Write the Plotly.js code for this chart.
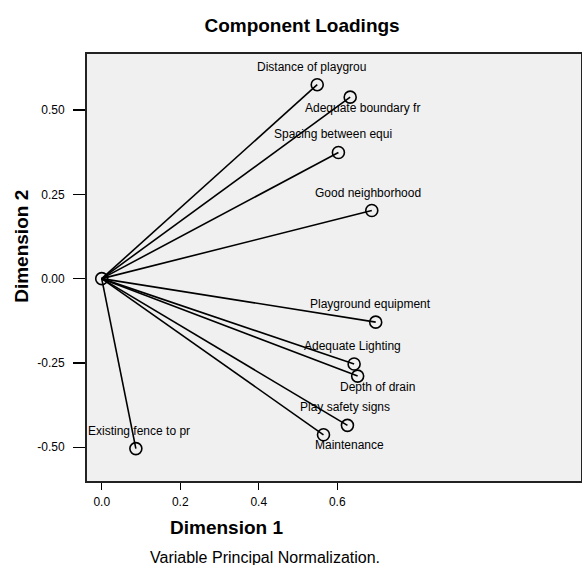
<!DOCTYPE html>
<html>
<head>
<meta charset="utf-8">
<script src="https://cdn.plot.ly/plotly-3.0.1.min.js"></script>
<style>html,body{margin:0;padding:0;background:#fff;}#chart{width:582px;height:565px;}</style>
</head>
<body>
<div id="chart"></div>
<script>
// Variables (labels as shown, truncated like the original)
var variables = ["Distance of playgrou", "Adequate boundary fr", "Spacing between equi", "Good neighborhood",
  "Playground equipment", "Adequate Lighting", "Depth of drain", "Play safety signs", "Maintenance", "Existing fence to pr"];
// Loadings on Dimension 1 and Dimension 2
var dim1 = [0.549, 0.633, 0.603, 0.688, 0.698, 0.643, 0.652, 0.626, 0.565, 0.087];
var dim2 = [0.575, 0.538, 0.374, 0.202, -0.129, -0.253, -0.289, -0.435, -0.463, -0.504];
var xTicks = [0, 0.2, 0.4, 0.6];
var xTickLabels = ["0.0", "0.2", "0.4", "0.6"];
var yTicks = [-0.5, -0.25, 0, 0.25, 0.5];
var yTickLabels = ["-0.50", "-0.25", "0.00", "0.25", "0.50"];

// label placement (pixel shifts relative to the point), layout only
var labelShiftX = [-6, 12, -5, -4, -5, -2, 20, -2, 26, 3];
var labelShiftY = [18, -11, 18, 18, 18, 18, -11, 18, -10, 18];

var lx = [], ly = [];
for (var i = 0; i < variables.length; i++) {
  lx.push(0, dim1[i], null);
  ly.push(0, dim2[i], null);
}

var vectors = {
  x: lx, y: ly, mode: 'lines', type: 'scatter',
  line: {color: '#000', width: 1.6}, hoverinfo: 'skip', showlegend: false
};
var points = {
  x: [0].concat(dim1), y: [0].concat(dim2), mode: 'markers', type: 'scatter',
  marker: {symbol: 'circle-open', size: 12, color: '#000', line: {width: 1.6, color: '#000'}},
  text: [''].concat(variables), hoverinfo: 'text', showlegend: false
};

var font = "'Liberation Sans', Arial, sans-serif";
var annotations = variables.map(function (v, i) {
  return {x: dim1[i], y: dim2[i], xref: 'x', yref: 'y', text: v, showarrow: false,
    xshift: labelShiftX[i], yshift: labelShiftY[i], xanchor: 'center', yanchor: 'middle',
    font: {family: font, size: 12, color: '#000'}};
});
annotations.push({text: '<b>Dimension 1</b>', xref: 'paper', yref: 'paper', x: 0.2834, y: -0.110,
  showarrow: false, xanchor: 'center', yanchor: 'middle', font: {family: font, size: 19, color: '#000'}});
annotations.push({text: '<b>Dimension 2</b>', xref: 'paper', yref: 'paper', x: -0.132, y: 0.5504, textangle: -90,
  showarrow: false, xanchor: 'center', yanchor: 'middle', font: {family: font, size: 19, color: '#000'}});
annotations.push({text: 'Variable Principal Normalization.', xref: 'paper', yref: 'paper', x: 0.360, y: -0.1787,
  showarrow: false, xanchor: 'center', yanchor: 'middle', font: {family: font, size: 16, color: '#000'}});

var layout = {
  width: 582, height: 565,
  margin: {l: 87, r: 1, t: 54, b: 84, pad: 0},
  paper_bgcolor: '#fff', plot_bgcolor: '#f0f0f0',
  font: {family: font, color: '#000'},
  title: {text: '<b>Component Loadings</b>', font: {family: font, size: 19, color: '#000'},
    xref: 'container', yref: 'container', x: 0.519, xanchor: 'center', y: 0.956, yanchor: 'middle'},
  xaxis: {range: [-0.0375, 1.221], tickvals: xTicks, ticktext: xTickLabels, ticks: 'outside', ticklen: 7,
    tickwidth: 1.3, tickcolor: '#000', showline: true, linecolor: '#222', linewidth: 2, mirror: true,
    showgrid: false, zeroline: false, tickfont: {family: font, size: 12, color: '#000'}, ticklabelstandoff: 2},
  yaxis: {range: [-0.60, 0.666], tickvals: yTicks, ticktext: yTickLabels, ticks: 'outside', ticklen: 12,
    tickwidth: 1.3, tickcolor: '#000', showline: true, linecolor: '#222', linewidth: 2, mirror: true,
    showgrid: false, zeroline: false, tickfont: {family: font, size: 12, color: '#000'}, ticklabelstandoff: 6},
  annotations: annotations
};

Plotly.newPlot('chart', [vectors, points], layout, {displayModeBar: false, staticPlot: true});
</script>
</body>
</html>
